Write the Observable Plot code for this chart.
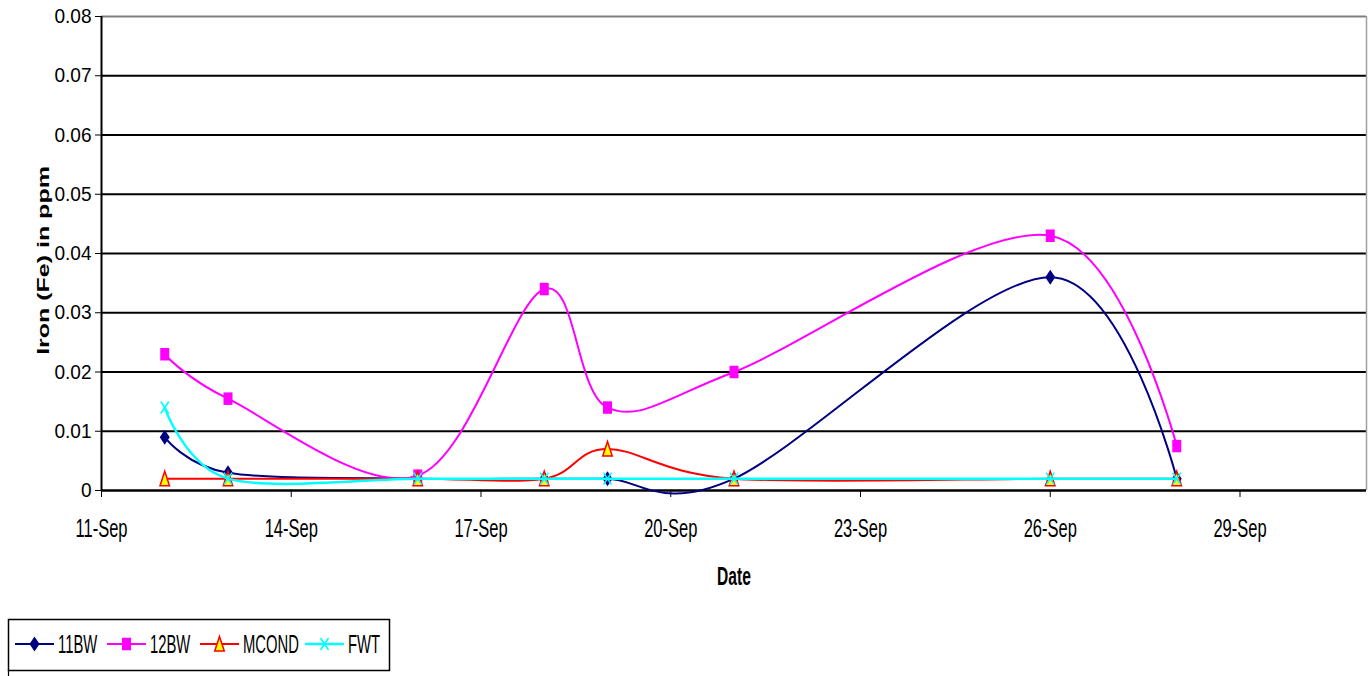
<!DOCTYPE html>
<html>
<head>
<meta charset="utf-8">
<script src="https://cdn.jsdelivr.net/npm/d3@7"></script>
<script src="https://cdn.jsdelivr.net/npm/@observablehq/plot@0.6"></script>
<style>
  body { margin: 0; background: #fff; font-family: "Liberation Sans", Arial, sans-serif; }
  #chart svg, #legend svg { display: block; }
</style>
</head>
<body>
<div id="chart"></div>
<div id="legend"></div>
<script>
// Sampling dates and iron readings (ppm) for each sampling point
const sampleDates = ["2008-09-12", "2008-09-13", "2008-09-16", "2008-09-18", "2008-09-19", "2008-09-21", "2008-09-26", "2008-09-28"];
const bw11  = [0.009, 0.003, 0.002, 0.002, 0.002, 0.002, 0.036, 0.002];
const bw12  = [0.023, 0.0155, 0.0025, 0.034, 0.014, 0.020, 0.043, 0.0075];
const mcond = [0.002, 0.002, 0.002, 0.002, 0.007, 0.002, 0.002, 0.002];
const fwt   = [0.014, 0.002, 0.002, 0.002, 0.002, 0.002, 0.002, 0.002];

const seriesNames = ["11BW", "12BW", "MCOND", "FWT"];
const xTickDates = ["2008-09-11", "2008-09-14", "2008-09-17", "2008-09-20", "2008-09-23", "2008-09-26", "2008-09-29"];
const yTickValues = [0, 0.01, 0.02, 0.03, 0.04, 0.05, 0.06, 0.07, 0.08];
const xDomain = ["2008-09-11", "2008-10-01"];
const xTitle = "Date";
const yTitle = "Iron (Fe) in ppm";

const parse = d3.utcParse("%Y-%m-%d");
const fmtDate = d3.utcFormat("%-d-%b");
const fmtY = d => d === 0 ? "0" : d3.format(".2f")(d);

const valuesBySeries = [bw11, bw12, mcond, fwt];
const rows = seriesNames.map((name, s) =>
  sampleDates.map((d, i) => ({series: name, date: parse(d), value: valuesBySeries[s][i]}))
);

// Marker shapes (slightly taller than wide)
const diamondTall = {draw(ctx, size) {
  const r = Math.sqrt(size / Math.PI);
  ctx.moveTo(0, -1.5 * r); ctx.lineTo(r, 0); ctx.lineTo(0, 1.5 * r); ctx.lineTo(-r, 0); ctx.closePath();
}};
const squareTall = {draw(ctx, size) {
  const r = Math.sqrt(size / Math.PI);
  ctx.rect(-0.9 * r, -1.25 * r, 1.8 * r, 2.5 * r);
}};
const triangleTall = {draw(ctx, size) {
  const r = Math.sqrt(size / Math.PI);
  ctx.moveTo(0, -1.5 * r); ctx.lineTo(0.95 * r, 1.4 * r); ctx.lineTo(-0.95 * r, 1.4 * r); ctx.closePath();
}};
const timesTall = {draw(ctx, size) {
  const r = Math.sqrt(size / Math.PI);
  ctx.moveTo(-0.8 * r, -1.2 * r); ctx.lineTo(0.8 * r, 1.2 * r);
  ctx.moveTo(0.8 * r, -1.2 * r); ctx.lineTo(-0.8 * r, 1.2 * r);
}};

const styles = [
  {stroke: "#000080", width: 2,   symbol: diamondTall,  fill: "#000080", mstroke: "none",    mwidth: 0},
  {stroke: "#FF00FF", width: 2,   symbol: squareTall,   fill: "#FF00FF", mstroke: "none",    mwidth: 0},
  {stroke: "#FF0000", width: 2,   symbol: triangleTall, fill: "#FFFF00", mstroke: "#FF0000", mwidth: 1.5},
  {stroke: "#00FFFF", width: 2.5, symbol: timesTall,    fill: "none",    mstroke: "#00FFFF", mwidth: 1.6}
];

const seriesMarks = rows.flatMap((data, s) => {
  const st = styles[s];
  return [
    Plot.line(data, {x: "date", y: "value", stroke: st.stroke, strokeWidth: st.width, curve: "cardinal"}),
    Plot.dot(data, {x: "date", y: "value", symbol: st.symbol, r: 5, fill: st.fill,
      stroke: st.mstroke === "none" ? null : st.mstroke, strokeWidth: st.mwidth})
  ];
});

const chart = Plot.plot({
  width: 1372,
  height: 610,
  marginLeft: 101,
  marginRight: 6,
  marginTop: 16,
  marginBottom: 120,
  style: {fontFamily: "'Liberation Sans', Arial, sans-serif", background: "#fff", color: "#000"},
  x: {type: "utc", domain: xDomain.map(parse), axis: null},
  y: {domain: [0, 0.08], axis: null},
  marks: [
    Plot.ruleY(yTickValues.filter(v => v > 0 && v < 0.08), {stroke: "#000", strokeWidth: 2.2}),
    Plot.ruleY([0.08], {stroke: "#808080", strokeWidth: 2}),
    Plot.ruleX([parse(xDomain[1])], {stroke: "#a0a0a0", strokeWidth: 1.5}),
    Plot.axisY({ticks: yTickValues, tickFormat: fmtY, tickSize: 6, tickPadding: 4, fontSize: 20.5, label: null}),
    Plot.axisX({ticks: xTickDates.map(parse), tickFormat: fmtDate, tickSize: 7, tickPadding: 22, fontSize: 25, label: null}),
    Plot.ruleX([parse(xDomain[0])], {stroke: "#000", strokeWidth: 2}),
    Plot.ruleY([0], {stroke: "#000", strokeWidth: 2.5}),
    Plot.text([xTitle], {frameAnchor: "bottom", dy: 94, fontSize: 26, fontWeight: "bold"}),
    Plot.text([yTitle], {frameAnchor: "left", textAnchor: "middle", dx: -58, dy: 7, rotate: -90, fontSize: 25, fontWeight: "bold"}),
    ...seriesMarks
  ]
});
document.getElementById("chart").appendChild(chart);

// Condense text about its anchor point (sx along the baseline, sy across it)
function squeeze(nodes, sx, sy = 1) {
  nodes.forEach(t => {
    const ax = parseFloat(t.getAttribute("x")) || 0;
    const tr = t.getAttribute("transform") || "";
    t.setAttribute("transform", `${tr} translate(${ax},0) scale(${sx},${sy}) translate(${-ax},0)`);
  });
}
const texts = Array.from(chart.querySelectorAll("text"));
const yTickLabels = new Set(yTickValues.map(fmtY));
const xTickLabels = new Set(xTickDates.map(d => fmtDate(parse(d))));
squeeze(texts.filter(t => yTickLabels.has(t.textContent)), 0.93);
squeeze(texts.filter(t => xTickLabels.has(t.textContent)), 0.66);
squeeze(texts.filter(t => t.textContent === xTitle), 0.6);
squeeze(texts.filter(t => t.textContent === yTitle), 1, 0.68);

// Legend below the chart
const legend = d3.create("svg").attr("width", 1372).attr("height", 66)
  .style("font-family", "'Liberation Sans', Arial, sans-serif");
legend.append("rect").attr("x", 8.5).attr("y", 9.5).attr("width", 381).attr("height", 51)
  .attr("fill", "#fff").attr("stroke", "#000").attr("stroke-width", 1.5);
legend.append("line").attr("x1", 8.5).attr("x2", 8.5).attr("y1", 60).attr("y2", 66)
  .attr("stroke", "#000").attr("stroke-width", 1.2);
const legendX = [15, 107, 200, 305];
const symbolPath = d3.symbol().size(25 * Math.PI);
seriesNames.forEach((name, s) => {
  const st = styles[s];
  const x0 = legendX[s], cy = 34;
  legend.append("line").attr("x1", x0).attr("x2", x0 + 39).attr("y1", cy).attr("y2", cy)
    .attr("stroke", st.stroke).attr("stroke-width", st.width);
  legend.append("path").attr("d", symbolPath.type(st.symbol)())
    .attr("transform", `translate(${x0 + 19.5},${cy})`)
    .attr("fill", st.fill).attr("stroke", st.mstroke).attr("stroke-width", st.mwidth);
  legend.append("text").attr("x", x0 + 43).attr("y", cy).attr("dy", "0.35em")
    .attr("font-size", 26).attr("fill", "#000").text(name);
});
squeeze(Array.from(legend.node().querySelectorAll("text")), 0.57);
document.getElementById("legend").appendChild(legend.node());
</script>
</body>
</html>
